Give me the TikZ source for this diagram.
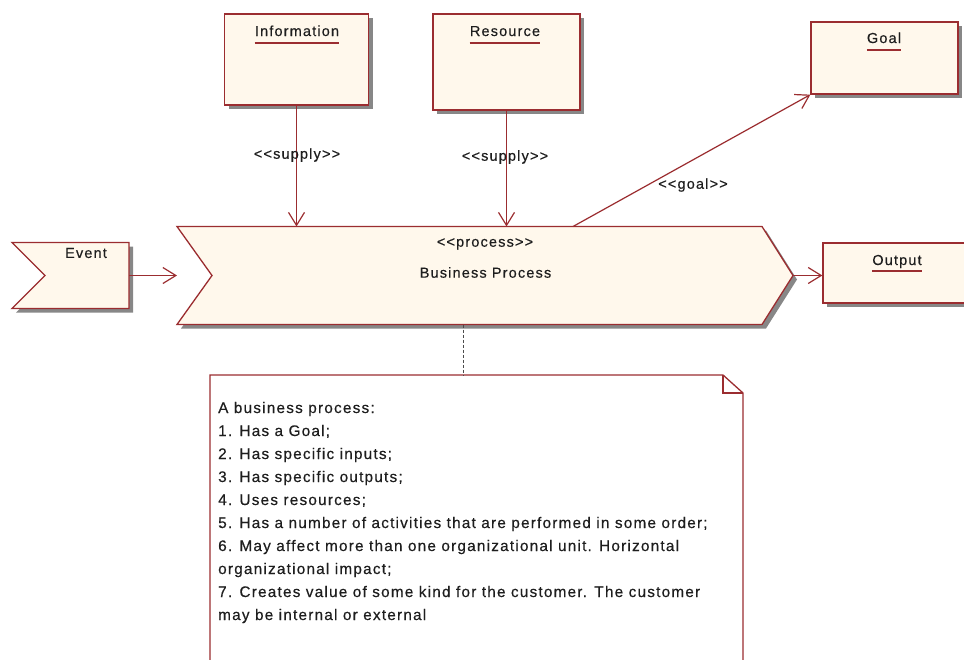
\documentclass[tikz,border=0pt]{standalone}
\usepackage{fontspec}
\newfontfamily\lbfont{Liberation Sans}[LetterSpace=8,FakeBold=0.4]
\usetikzlibrary{arrows.meta,shadows,calc}
\definecolor{brd}{RGB}{155,45,48}
\definecolor{crm}{RGB}{255,248,236}
\definecolor{txt}{RGB}{30,30,30}
\definecolor{shd}{RGB}{135,135,135}
\begin{document}
\begin{tikzpicture}[x=1pt,y=-1pt,
  shad/.style={drop shadow={shadow xshift=4pt,shadow yshift=-4pt,fill=shd,opacity=1}},
  box/.style={draw=brd,line width=1.3pt,fill=crm,shad,inner sep=0pt},
  ghost/.style={inner sep=0pt,outer sep=0pt},
  lbl/.style={font=\lbfont\fontsize{14.5}{17}\selectfont,text=txt,inner sep=0pt},
  notetxt/.style={font=\lbfont\fontsize{15.3}{17}\selectfont,text=txt,inner sep=0pt,anchor=base west},
  conn/.style={draw=brd,line width=1.2pt,-{Straight Barb[length=13pt,width=16pt,line width=1.2pt]}},
  uline/.style={draw=brd,line width=1.2pt},
  anchorline/.style={draw=txt!80,line width=1pt,dash pattern=on 3pt off 2pt}]
\useasboundingbox (0,0) rectangle (964,659);
\clip (0,0) rectangle (964,659);

% invisible frames for the custom shapes
\node[ghost,minimum width=117pt,minimum height=66pt] (event) at (70.5,275.5) {};
\node[ghost,minimum width=616pt,minimum height=98pt] (proc) at (485,275.5) {};
\node[ghost,minimum width=533pt,minimum height=310pt] (note) at (476.5,530) {};

% Event shape
\path[box] (event.north west) -- (event.north east) -- (event.south east)
  -- (event.south west) -- ($(event.west)+(33,0)$) -- cycle;
\node[lbl] (eventname) at (86,253) {Event};

% Process shape
\path[box] (proc.north west) -- ($(proc.north east)+(-31,0)$) -- (proc.east)
  -- ($(proc.south east)+(-31,0)$) -- (proc.south west) -- ($(proc.west)+(35,0)$) -- cycle;
\node[lbl] (stereo) at (485,244) {<<process>>};
\node[lbl] (procname) at (485.5,272.5) {Business Process};

% Boxes
\node[box,minimum width=144pt,minimum height=91pt] (info) at (296.5,59.5) {};
\node[lbl,anchor=base] (infoname) at (297,36) {Information};
\draw[uline] ($(infoname.base west)+(0,7)$) -- ($(infoname.base east)+(0,7)$);

\node[box,minimum width=147pt,minimum height=96pt] (res) at (506.5,62) {};
\node[lbl,anchor=base] (resname) at (505,36) {Resource};
\draw[uline] ($(resname.base west)+(0,7)$) -- ($(resname.base east)+(0,7)$);

\node[box,minimum width=147pt,minimum height=72pt] (goal) at (884.5,58) {};
\node[lbl,anchor=base] (goalname) at (884,43) {Goal};
\draw[uline] ($(goalname.base west)+(0,7)$) -- ($(goalname.base east)+(0,7)$);

\node[box,minimum width=170pt,minimum height=60pt] (out) at (908,273) {};
\node[lbl,anchor=base] (outname) at (897,265) {Output};
\draw[uline] ($(outname.base west)+(0,6)$) -- ($(outname.base east)+(0,6)$);

% Connectors
\draw[conn] (info.south) -- (info.south |- proc.north);
\node[lbl] (sup1) at (297,155) {<<supply>>};
\draw[conn] (res.south) -- (res.south |- proc.north);
\node[lbl] (sup2) at (505,157) {<<supply>>};
\coordinate (goalstart) at ($(proc.north west)+(396,0)$);
\draw[conn] (goalstart) -- (goal.south west);
\node[lbl] (goallbl) at (693,185) {<<goal>>};
\draw[conn] (event.east) -- (event.east -| proc.west);
\draw[conn] (proc.east) -- (proc.east -| out.west);

% Note
\path[draw=brd,line width=1.3pt,fill=white] (note.south west) -- (note.north west)
  -- ($(note.north east)+(-20,0)$) -- ($(note.north east)+(0,18)$) -- (note.south east);
\draw[draw=brd,line width=1.3pt] ($(note.north east)+(-20,0)$) -- ($(note.north east)+(-20,18)$)
  -- ($(note.north east)+(0,18)$);
\coordinate (notetop) at (note.north -| 463,0);
\draw[anchorline] (proc.south -| notetop) -- (notetop);

\node[notetxt] (l0) at (218,413) {A business process:};
\node[notetxt] (l1) at (218,436) {1. Has a Goal;};
\node[notetxt] (l2) at (218,459) {2. Has specific inputs;};
\node[notetxt] (l3) at (218,482) {3. Has specific outputs;};
\node[notetxt] (l4) at (218,505) {4. Uses resources;};
\node[notetxt] (l5) at (218,528) {5. Has a number of activities that are performed in some order;};
\node[notetxt] (l6) at (218,551) {6. May affect more than one organizational unit. Horizontal};
\node[notetxt] (l7) at (218,574) {organizational impact;};
\node[notetxt] (l8) at (218,597) {7. Creates value of some kind for the customer. The customer};
\node[notetxt] (l9) at (218,620) {may be internal or external};
\end{tikzpicture}
\end{document}
